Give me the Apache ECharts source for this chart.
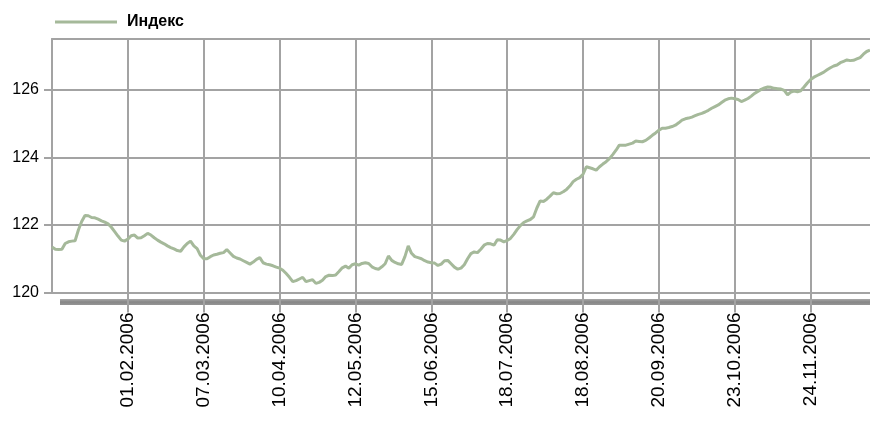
<!DOCTYPE html>
<html>
<head>
<meta charset="utf-8">
<script src="https://cdn.jsdelivr.net/npm/echarts@6/dist/echarts.min.js"></script>
<style>
html,body{margin:0;padding:0;background:#fff;}
#chart{width:870px;height:421px;}
</style>
</head>
<body>
<div id="chart"></div>
<script>
// Tick labels shown every 23 trading days
const tickLabels = ['01.02.2006','07.03.2006','10.04.2006','12.05.2006','15.06.2006',
                    '18.07.2006','18.08.2006','20.09.2006','23.10.2006','24.11.2006'];
const labelStep = 23;
const yTicks = [120, 122, 124, 126];
const seriesName = 'Индекс';

// Index values (one per trading day)
const valuesJanMar = [
  121.35,121.28,121.27,121.28,121.45,121.50,121.52,121.53,121.85,122.10,
  122.28,122.27,122.22,122.21,122.17,122.12,122.08,122.03,121.93,121.80,
  121.67,121.55,121.52,121.58,121.68,121.70,121.61,121.62,121.68,121.75,
  121.70,121.62,121.55,121.49,121.44,121.38,121.33,121.29,121.24,121.22,
  121.35,121.45,121.52,121.38,121.30,121.10,121.00,121.00,121.06,121.11,
  121.13,121.16,121.18,121.27,121.17,121.07,121.02,120.99,120.94,120.89,
  120.84,120.90
];
const valuesAprJun = [
  120.98,121.03,120.88,120.84,120.82,120.79,120.75,120.72,120.66,120.56,
  120.45,120.32,120.35,120.40,120.45,120.32,120.35,120.38,120.27,120.30,
  120.36,120.47,120.51,120.50,120.52,120.62,120.73,120.78,120.72,120.82,
  120.85,120.81,120.86,120.88,120.86,120.76,120.71,120.69,120.76,120.85,
  121.08,120.95,120.89,120.85,120.83,121.06,121.38,121.16,121.06,121.03,
  121.00,120.94,120.90,120.88,120.87,120.80,120.84,120.94,120.95,120.85,
  120.75,120.69,120.72
];
const valuesJulSep = [
  120.82,121.00,121.15,121.20,121.18,121.28,121.40,121.45,121.44,121.40,
  121.56,121.55,121.50,121.54,121.60,121.72,121.86,121.98,122.07,122.12,
  122.16,122.24,122.50,122.71,122.69,122.76,122.85,122.95,122.92,122.93,
  122.98,123.05,123.15,123.28,123.35,123.40,123.50,123.72,123.69,123.66,
  123.62,123.72,123.80,123.87,123.96,124.08,124.21,124.36,124.36,124.36,
  124.39,124.42,124.48,124.47,124.46,124.50,124.57,124.65,124.72,124.80,
  124.86,124.86,124.88
];
const valuesOctDec = [
  124.91,124.95,125.02,125.10,125.14,125.16,125.19,125.23,125.27,125.30,
  125.34,125.39,125.45,125.50,125.55,125.62,125.69,125.73,125.75,125.73,
  125.71,125.65,125.69,125.74,125.81,125.89,125.95,126.01,126.05,126.08,
  126.07,126.04,126.03,126.02,125.98,125.85,125.93,125.96,125.94,125.97,
  126.08,126.20,126.30,126.37,126.42,126.47,126.52,126.59,126.65,126.70,
  126.73,126.80,126.84,126.88,126.86,126.87,126.91,126.95,127.05,127.13,
  127.17
];
const values = valuesJanMar.concat(valuesAprJun, valuesJulSep, valuesOctDec);
const categories = values.map((v, i) => String(i));

const showTick = (i) => i > 0 && i % labelStep === 0;
const gridColor = '#a3a3a3';

const chart = echarts.init(document.getElementById('chart'), null, {renderer: 'canvas'});
chart.setOption({
  backgroundColor: '#ffffff',
  animation: false,
  legend: {
    data: [seriesName],
    left: 55,
    top: 14,
    padding: 0,
    icon: 'rect',
    itemWidth: 62,
    itemHeight: 3,
    itemGap: 10,
    textStyle: {
      fontFamily: 'Liberation Sans',
      fontSize: 16,
      fontWeight: 'bold',
      color: '#000',
      padding: [0, 0, 0, 5]
    }
  },
  grid: {left: 52, right: 0, top: 39, bottom: 128.5, containLabel: false},
  xAxis: [{
    type: 'category',
    data: categories,
    boundaryGap: false,
    axisLine: {show: true, lineStyle: {color: gridColor, width: 2}},
    axisTick: {show: true, interval: (i) => showTick(i), length: 20, lineStyle: {color: gridColor, width: 2}},
    splitLine: {show: true, interval: (i) => showTick(i), lineStyle: {color: gridColor, width: 2}},
    axisLabel: {
      interval: (i) => showTick(i),
      rotate: 90,
      margin: 20,
      fontFamily: 'Liberation Sans',
      fontSize: 19,
      color: '#000',
      formatter: (v) => {
        const i = Number(v);
        return showTick(i) ? (tickLabels[i / labelStep - 1] || '') : '';
      }
    }
  }, {
    type: 'category',
    position: 'top',
    data: categories,
    boundaryGap: false,
    axisLine: {show: true, lineStyle: {color: gridColor, width: 2}},
    axisTick: {show: false},
    axisLabel: {show: false},
    splitLine: {show: false}
  }],
  yAxis: {
    type: 'value',
    min: 120,
    max: 127.5,
    interval: 2,
    axisLine: {show: true, lineStyle: {color: gridColor, width: 2}},
    axisTick: {show: true, length: 8, customValues: yTicks, lineStyle: {color: gridColor, width: 2}},
    splitLine: {show: true, lineStyle: {color: gridColor, width: 2}},
    axisLabel: {
      margin: 13,
      customValues: yTicks,
      fontFamily: 'Liberation Sans',
      fontSize: 16,
      color: '#000',
      formatter: (v) => (v % 2 === 0 ? String(v) : '')
    }
  },
  graphic: [{
    type: 'rect',
    left: 60,
    top: 299,
    shape: {width: 810, height: 6},
    style: {
      fill: new echarts.graphic.LinearGradient(0, 0, 0, 1, [
        {offset: 0, color: '#a8a8a8'},
        {offset: 0.5, color: '#868686'},
        {offset: 1, color: '#959595'}
      ])
    },
    z: -1
  }],
  series: [{
    name: seriesName,
    type: 'line',
    data: values,
    symbol: 'none',
    showSymbol: false,
    itemStyle: {color: '#a5b99a'},
    lineStyle: {color: '#a5b99a', width: 3},
    z: 3
  }]
});
</script>
</body>
</html>
